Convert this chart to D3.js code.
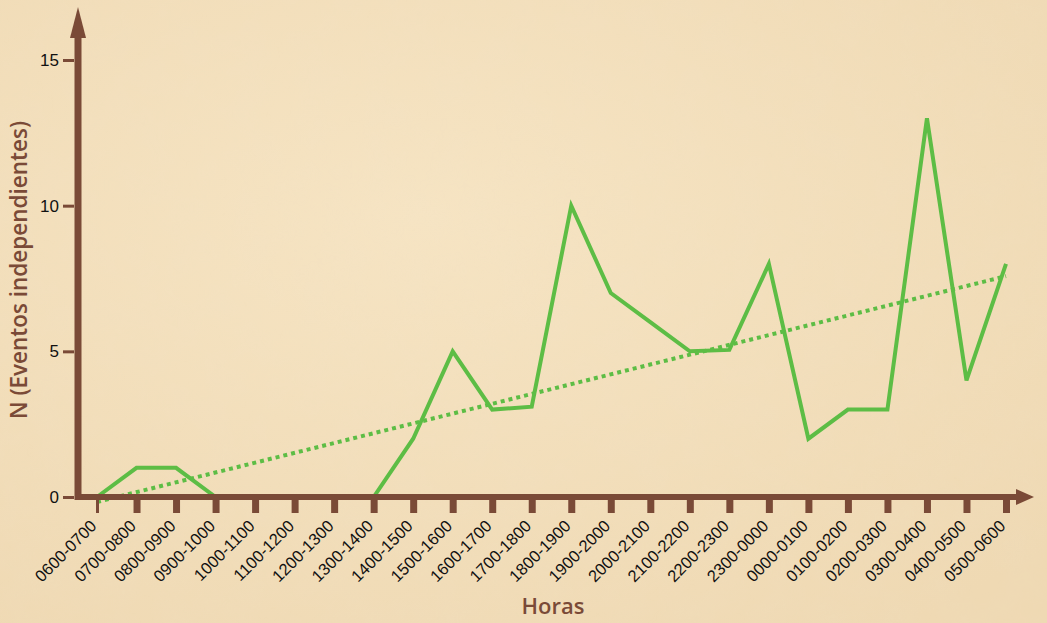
<!DOCTYPE html>
<html>
<head>
<meta charset="utf-8">
<script src="https://cdn.jsdelivr.net/npm/d3@7"></script>
<style>
  html, body { margin: 0; padding: 0; overflow: hidden; }
  body { width: 1047px; height: 623px; background: #f2dfbc; }
  svg { display: block; font-family: "Open Sans", "Noto Sans", sans-serif; }
</style>
</head>
<body>
<script>
const horas = ["0600-0700", "0700-0800", "0800-0900", "0900-1000", "1000-1100", "1100-1200",
  "1200-1300", "1300-1400", "1400-1500", "1500-1600", "1600-1700", "1700-1800",
  "1800-1900", "1900-2000", "2000-2100", "2100-2200", "2200-2300", "2300-0000",
  "0000-0100", "0100-0200", "0200-0300", "0300-0400", "0400-0500", "0500-0600"];
const eventos = [0, 1, 1, 0, 0, 0, 0, 0, 2, 5, 3, 3.1, 10, 7, 6, 5, 5.05, 8, 2, 3, 3, 13, 4, 8];
// linear trend line, value at first and last category
const tendencia = [-0.17, 7.58];
const yTicks = [0, 5, 10, 15];

const w = 1047, h = 623;
const brown = "#7a4a37";
const green = "#5dbd45";

const svg = d3.select("body").append("svg")
  .attr("width", w)
  .attr("height", h);

// paper background
const defs = svg.append("defs");
const grad = defs.append("radialGradient").attr("id", "bg")
  .attr("cx", "40%").attr("cy", "35%").attr("r", "80%");
grad.append("stop").attr("offset", "0%").attr("stop-color", "#f6e4c3");
grad.append("stop").attr("offset", "100%").attr("stop-color", "#efd9b3");
const noise = defs.append("filter").attr("id", "paper");
noise.append("feTurbulence").attr("type", "fractalNoise")
  .attr("baseFrequency", 0.03).attr("numOctaves", 3).attr("seed", 4);
noise.append("feColorMatrix").attr("type", "matrix")
  .attr("values", "0 0 0 0 0.85  0 0 0 0 0.76  0 0 0 0 0.62  0 0 0 0.4 -0.12");
svg.append("rect").attr("width", w).attr("height", h).attr("fill", "url(#bg)");
svg.append("rect").attr("width", w).attr("height", h).attr("filter", "url(#paper)").attr("opacity", 0.35);

const x = d3.scalePoint()
  .domain(horas)
  .range([97, 1006]);

const y = d3.scaleLinear()
  .domain([0, 15])
  .range([497, 60]);

// data line
const line = d3.line()
  .x((d, i) => x(horas[i]))
  .y(d => y(d));

svg.append("path")
  .datum(eventos)
  .attr("fill", "none")
  .attr("stroke", green)
  .attr("stroke-width", 4)
  .attr("stroke-linejoin", "miter")
  .attr("d", line);

// trend line
svg.append("line")
  .attr("x1", x(horas[0]))
  .attr("y1", y(tendencia[0]))
  .attr("x2", x(horas[horas.length - 1]))
  .attr("y2", y(tendencia[1]))
  .attr("stroke", green)
  .attr("stroke-width", 4)
  .attr("stroke-dasharray", "4,4");

// y axis
const yAxis = svg.append("g")
  .attr("transform", "translate(74,0)")
  .call(d3.axisLeft(y).tickValues(yTicks).tickSize(11).tickPadding(4));
yAxis.select(".domain").remove();
yAxis.selectAll(".tick line").attr("stroke", brown).attr("stroke-width", 3);
yAxis.selectAll(".tick text").attr("fill", "#111").attr("font-size", 17);

// x axis
const xAxis = svg.append("g")
  .attr("transform", "translate(0,500)")
  .call(d3.axisBottom(x).tickSize(13).tickPadding(0));
xAxis.select(".domain").remove();
xAxis.selectAll(".tick line")
  .attr("stroke", brown)
  .attr("stroke-width", (d, i) => i === 0 ? 3 : 7);
xAxis.selectAll(".tick text")
  .attr("fill", "#111")
  .attr("font-size", 16.5)
  .attr("text-anchor", "end")
  .attr("y", 0)
  .attr("dy", "0.35em")
  .attr("transform", "translate(-4,23) rotate(-45)");

// axis bars with arrows
svg.append("line").attr("x1", 78).attr("y1", 500).attr("x2", 78).attr("y2", 30)
  .attr("stroke", brown).attr("stroke-width", 7);
svg.append("path").attr("d", "M70,38 L78,7 L86,38 Z").attr("fill", brown);
svg.append("line").attr("x1", 75).attr("y1", 497).attr("x2", 1022).attr("y2", 497)
  .attr("stroke", brown).attr("stroke-width", 6);
svg.append("path").attr("d", "M1016,489 L1034,497 L1016,505 Z").attr("fill", brown);

// titles
svg.append("text")
  .attr("transform", "translate(27,270) rotate(-90)")
  .attr("text-anchor", "middle")
  .attr("fill", brown)
  .attr("font-size", 22.5)
  .attr("font-weight", 600)
  .text("N (Eventos independientes)");

svg.append("text")
  .attr("x", 553)
  .attr("y", 614)
  .attr("text-anchor", "middle")
  .attr("fill", brown)
  .attr("font-size", 22)
  .attr("font-weight", 600)
  .text("Horas");
</script>
</body>
</html>
